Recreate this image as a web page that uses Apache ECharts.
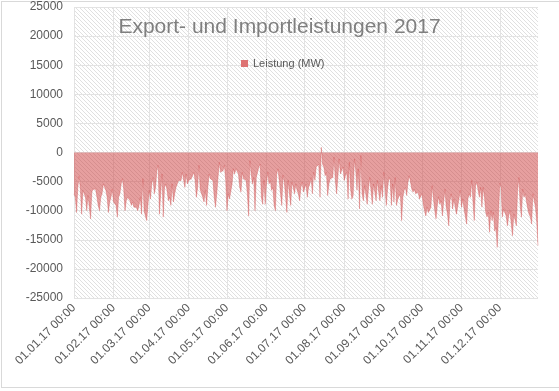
<!DOCTYPE html>
<html><head><meta charset="utf-8">
<script src="https://cdn.jsdelivr.net/npm/echarts@6/dist/echarts.min.js"></script>
<style>
html,body{margin:0;padding:0;background:#fff;}
#frame{position:absolute;left:1px;top:1px;width:600px;height:387px;border:1px solid #d9d9d9;box-sizing:border-box;}
#chart{position:absolute;left:0;top:0;width:559px;height:391px;}
</style>
</head><body>
<div id="frame"></div>
<div id="chart"></div>
<script>
// Daily values (MW), 2017 (lower envelope)
const janMar = [-7100,-7700,-10300,-6000,-4100,-6300,-10600,-6500,-7100,-7700,-10000,-7400,-7100,-11400,-6800,-6300,-6000,-6300,-7700,-9100,-10000,-7700,-7100,-5400,-5700,-6500,-7700,-10300,-8500,-7700,-6300,
-8500,-8300,-9100,-11100,-7700,-7100,-5400,-4500,-6300,-10000,-8300,-7700,-7700,-8300,-9100,-8500,-9400,-9700,-9400,-10000,-9100,-7700,-10600,-4500,-10000,-10900,-11700,-9100,
-6500,-8000,-5400,-4300,-7100,-6000,-3100,-2200,-10600,-10900,-3700,-11100,-6000,-5400,-6500,-8300,-7700,-9100,-5400,-8500,-7100,-6000,-5400,-4800,-4500,-4800,-3400,-3600,-6000,-3700,-5400,-4800,-5100,-4500];
const aprJun = [-4500,-3400,-4800,-7700,-6000,-2200,-6400,-6500,-7700,-8500,-6500,-9100,-6000,-3700,-4500,-4300,-4800,-7700,-9400,-7100,-4300,-1700,-3400,-3700,-3100,-2200,-4800,
-10000,-7100,-8000,-8000,-5400,-2800,-3700,-2800,-3100,-3700,-6000,-6800,-3400,-4500,-4300,-4800,-7100,-10900,-1400,-3700,-5400,-4300,-10000,-4300,-4500,-2500,-2000,-7700,-8900,-4800,-8900,
-5400,-3400,-5400,-4800,-6500,-6000,-9100,-10000,-3700,-2800,-4800,-7100,-9100,-3900,-5100,-7700,-10300,-4800,-7100,-9100,-5100,-6000,-7100,-5400,-6500,-7100,-8300,-6000,-5100,-6800,
-6500,-5400,-7700];
const julSep = [-6000,-5400,-4300,-7100,-3400,-4800,-2500,-2800,-2000,-7700,900,-2000,-2500,-4000,-3400,-7400,-5400,-4500,-4800,-4300,-800,-4800,-7100,-4300,-1100,-3700,-3400,-2500,
-4800,-3900,-3400,-8000,-1700,-6300,-8000,-7400,-1100,-3100,-6500,-2800,-9700,-500,-7100,-8300,-5700,-5400,-8900,-6300,-4300,-4500,-8900,-5400,-5700,-8300,-4800,-6800,-8300,-5700,-7700,
-3400,-3700,-9100,-6300,-4300,-4800,-9100,-5400,-8500,-4300,-9100,-8000,-8300,-7100,-11700,-7700,-6500,-6000,-7400,-5100,-4000,-5100,-6300,-6800,-6300,-7100,-7100,-6800,-8000,-8300,
-7100,-8900];
const octDec = [-10000,-10900,-9400,-10300,-9900,-9400,-5700,-8000,-10000,-11400,-9100,-7600,-8900,-8300,-10900,-8500,-6300,-9400,-10600,-12600,-8300,-7100,-9700,-8000,-8000,-10600,-10900,-8000,-6500,
-9400,-8000,-9700,-9400,-12300,-8000,-7100,-7700,-4800,-8500,-11700,-5700,-5100,-6500,-7700,-6000,-9400,-6000,-7700,-10300,-11100,-10300,-13700,-10000,-11700,-10300,-13500,-12900,-16300,-11100,
-5300,-6000,-11100,-9700,-10300,-10900,-12600,-10900,-10000,-12300,-14300,-10600,-10300,-12600,-6500,-4300,-9100,-11100,-6300,-7700,-7100,-8500,-9700,-10600,-11100,-12300,-7100,-7100,-9400,-12000,-16000];
const leistung = janMar.concat(aprJun, julSep, octDec);

const monthLabels = ['01.01.17 00:00','01.02.17 00:00','01.03.17 00:00','01.04.17 00:00','01.05.17 00:00','01.06.17 00:00','01.07.17 00:00','01.08.17 00:00','01.09.17 00:00','01.10.17 00:00','01.11.17 00:00','01.12.17 00:00'];
const monthDays = [31,28,31,30,31,30,31,31,30,31,30,31];
const yTicks = {min:-25000, max:25000, interval:5000};

// build daily category labels "dd.mm.17 00:00"
const categories = [];
const monthStart = new Set();
let idx = 0;
monthDays.forEach((n, m) => {
  monthStart.add(idx);
  for (let d = 1; d <= n; d++) {
    categories.push(d === 1 ? monthLabels[m] : String(d).padStart(2,'0') + '.' + String(m+1).padStart(2,'0') + '.17 00:00');
    idx++;
  }
});

// hatch pattern for plot background
const pc = document.createElement('canvas');
pc.width = 4; pc.height = 4;
const g = pc.getContext('2d');
g.fillStyle = '#ffffff'; g.fillRect(0,0,4,4);
g.strokeStyle = '#e0e0e0'; g.lineWidth = 1;
g.beginPath(); g.moveTo(-1,-1); g.lineTo(5,5); g.stroke();
g.beginPath(); g.moveTo(3,-1); g.lineTo(5,1); g.stroke();
g.beginPath(); g.moveTo(-1,3); g.lineTo(1,5); g.stroke();

const chart = echarts.init(document.getElementById('chart'), null, {renderer:'canvas'});
const font = 'Liberation Sans';
chart.setOption({
  animation: false,
  backgroundColor: 'transparent',
  title: {
    text: 'Export- und Importleistungen 2017',
    left: 'center', top: 12,
    textStyle: {color:'#7f7f7f', fontSize:21, fontWeight:'normal', fontFamily:font}
  },
  legend: {
    left: 236, top: 53,
    itemWidth: 7, itemHeight: 7, itemGap: 5,
    icon: 'rect',
    textStyle: {color:'#595959', fontSize:11, fontFamily:font},
    data: ['Leistung (MW)']
  },
  grid: {
    left: 74, right: 21, top: 7, bottom: 93,
    show: true, borderWidth: 0,
    backgroundColor: {image: pc, repeat: 'repeat'}
  },
  xAxis: {
    type: 'category',
    data: categories,
    boundaryGap: false,
    axisLine: {show:false, onZero:false},
    axisTick: {show:false},
    axisLabel: {
      interval: (i) => monthStart.has(i),
      rotate: 45, margin: 8,
      color:'#595959', fontSize:12, fontFamily:font
    },
    splitLine: {show:true, interval: (i) => monthStart.has(i), lineStyle:{color:'#e3e3e3', width:1}}
  },
  yAxis: {
    type: 'value',
    min: yTicks.min, max: yTicks.max, interval: yTicks.interval,
    axisLine: {show:false},
    axisTick: {show:false},
    axisLabel: {color:'#595959', fontSize:12, fontFamily:font, margin:11, formatter: (v) => String(v)},
    splitLine: {lineStyle:{color:'#e3e3e3', width:1}}
  },
  series: [{
    name: 'Leistung (MW)',
    type: 'line',
    data: leistung,
    symbol: 'none',
    lineStyle: {width: 0.5, color:'rgba(205,60,60,0.6)'},
    itemStyle: {color:'#dd7373'},
    areaStyle: {color:'rgba(205,60,60,0.7)', origin: 0}
  }]
});
</script>
</body></html>
